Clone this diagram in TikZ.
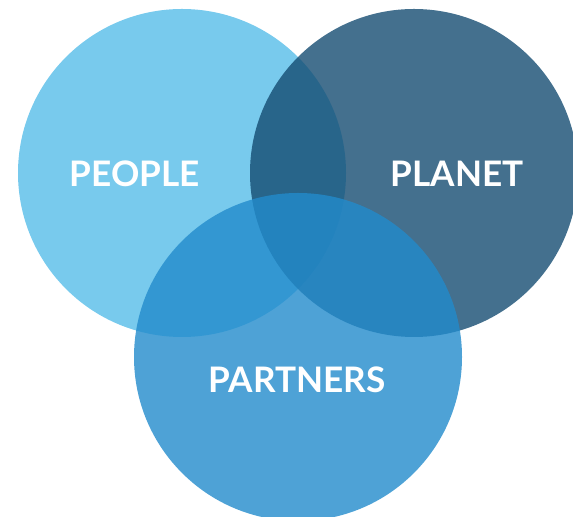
\documentclass[tikz,border=0pt]{standalone}
\usepackage{fontspec}
\setmainfont{Lato}
\definecolor{peopleblue}{RGB}{120, 202, 237}
\definecolor{planetblue}{RGB}{21, 76, 114}
\definecolor{partnerblue}{RGB}{34, 139, 204}
\usepackage{tikz}
\usetikzlibrary{positioning}

\begin{document}
\begin{tikzpicture}[
  ring/.style={circle, minimum size=6.56cm, inner sep=0pt},
  tag/.style={text=white, font=\fontsize{20}{24}\selectfont\bfseries, anchor=base}
]
  \useasboundingbox (0, 0) rectangle (11.46, 10.34);
  \clip (0, 0) rectangle (11.46, 10.34);

  % the three circles, back to front
  \node[ring, fill=peopleblue] (people) at (3.64, 6.88) {};
  \node[ring, fill=planetblue, fill opacity=0.8] (planet) at (8.28, 6.88) {};
  \node[ring, fill=partnerblue, fill opacity=0.8] (partners) at (5.96, 3.20) {};

  % labels
  \node[tag] (peopletag) at (2.70, 6.60) {PEOPLE};
  \node[tag] (planettag) at (9.14, 6.60) {PLANET};
  \node[tag] (partnerstag) at (5.94, 2.48) {PARTNERS};
\end{tikzpicture}
\end{document}
